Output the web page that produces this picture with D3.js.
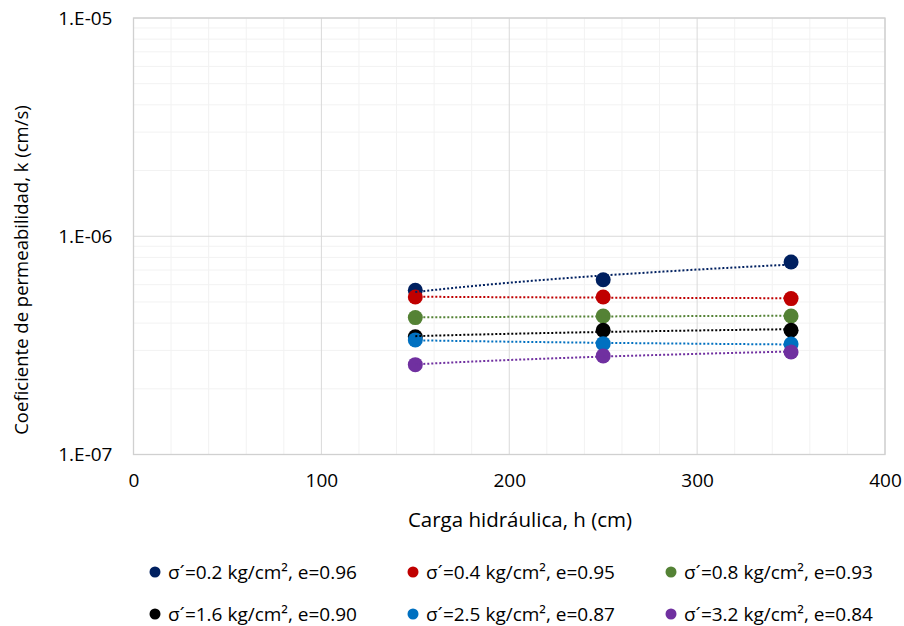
<!DOCTYPE html>
<html><head><meta charset="utf-8">
<script src="https://cdn.jsdelivr.net/npm/d3@7"></script>
<style>body{margin:0;background:#fff;} text{font-family:"Open Sans",sans-serif;fill:#000;}</style>
</head><body><svg id="c" width="904" height="626"></svg>
<script>
const heads = [150, 250, 350];
const seriesNames = ["σ´=0.2 kg/cm², e=0.96","σ´=0.4 kg/cm², e=0.95","σ´=0.8 kg/cm², e=0.93","σ´=1.6 kg/cm², e=0.90","σ´=2.5 kg/cm², e=0.87","σ´=3.2 kg/cm², e=0.84"];
const colors = ["#002060","#C00000","#548235","#000000","#0070C0","#7030A0"];
const k02 = [5.65e-7, 6.32e-7, 7.62e-7];
const k04 = [5.27e-7, 5.27e-7, 5.18e-7];
const k08 = [4.24e-7, 4.31e-7, 4.31e-7];
const k16 = [3.46e-7, 3.71e-7, 3.71e-7];
const k25 = [3.35e-7, 3.22e-7, 3.21e-7];
const k32 = [2.58e-7, 2.83e-7, 2.95e-7];
const allK = [k02,k04,k08,k16,k25,k32];
const xTicks = [0,100,200,300,400];
const yTicks = [1e-7,1e-6,1e-5];
const yTickLabels = ["1.E-07","1.E-06","1.E-05"];

const svg = d3.select("#c");
const L=133.5, R=885, T=18, B=454.5;
const x = d3.scaleLinear().domain([0,400]).range([L,R]);
const y = d3.scaleLog().domain([1e-7,1e-5]).range([B,T]);

const g = svg.append("g");
// minor grid
const minorX = d3.range(0,401,20).filter(v=>v%100!==0);
g.selectAll(".mx").data(minorX).enter().append("line")
 .attr("x1",d=>x(d)).attr("x2",d=>x(d)).attr("y1",T).attr("y2",B)
 .attr("stroke","#f2f2f2").attr("stroke-width",1);
const minorY=[];
[1e-7,1e-6].forEach(dec=>{for(let m=2;m<=9;m++)minorY.push(dec*m);});
g.selectAll(".my").data(minorY).enter().append("line")
 .attr("x1",L).attr("x2",R).attr("y1",d=>y(d)).attr("y2",d=>y(d))
 .attr("stroke","#f2f2f2").attr("stroke-width",1);
// major grid
g.selectAll(".Mx").data(xTicks).enter().append("line")
 .attr("x1",d=>x(d)).attr("x2",d=>x(d)).attr("y1",T).attr("y2",B)
 .attr("stroke","#d9d9d9").attr("stroke-width",1);
g.selectAll(".My").data(yTicks).enter().append("line")
 .attr("x1",L).attr("x2",R).attr("y1",d=>y(d)).attr("y2",d=>y(d))
 .attr("stroke","#d9d9d9").attr("stroke-width",1);
g.append("rect").attr("x",L).attr("y",T).attr("width",R-L).attr("height",B-T)
 .attr("fill","none").attr("stroke","#d0d0d0").attr("stroke-width",1.3);

// axes labels
const xa = d3.axisBottom(x).tickValues(xTicks).tickSize(0).tickPadding(19);
const xg = svg.append("g").attr("transform",`translate(0,${B})`).call(xa);
xg.select(".domain").remove();
xg.selectAll("text").style("font-size","19px").style("font-family","'Open Sans',sans-serif").attr("fill","#000");
const ya = d3.axisLeft(y).tickValues(yTicks).tickFormat((d,i)=>yTickLabels[i]).tickSize(0).tickPadding(21);
const yg = svg.append("g").attr("transform",`translate(${L},0)`).call(ya);
yg.select(".domain").remove();
yg.selectAll("text").style("font-size","19px").style("font-family","'Open Sans',sans-serif").attr("fill","#000");

svg.append("text").attr("x",520).attr("y",527).attr("text-anchor","middle")
 .style("font-size","20.5px").text("Carga hidráulica, h (cm)");
svg.append("text").attr("transform",`translate(28,${270}) rotate(-90)`).attr("text-anchor","middle")
 .style("font-size","18.5px").text("Coeficiente de permeabilidad, k (cm/s)");

// markers
allK.forEach((ks,i)=>{
  svg.append("g").selectAll("circle").data(ks).enter().append("circle")
   .attr("cx",(d,j)=>x(heads[j])).attr("cy",d=>y(d)).attr("r",7.5).attr("fill",colors[i]);
});
// power trendlines
allK.forEach((ks,i)=>{
  const lx=heads.map(Math.log), ly=ks.map(Math.log);
  const mx=d3.mean(lx), my=d3.mean(ly);
  const b=d3.sum(lx.map((v,j)=>(v-mx)*(ly[j]-my)))/d3.sum(lx.map(v=>(v-mx)*(v-mx)));
  const a=my-b*mx;
  const pts=d3.range(150,350.01,2).map(h=>[h,Math.exp(a+b*Math.log(h))]);
  svg.append("path").datum(pts)
   .attr("d",d3.line().x(d=>x(d[0])).y(d=>y(d[1])))
   .attr("fill","none").attr("stroke",colors[i]).attr("stroke-width",2).attr("stroke-dasharray","2,2");
});

// legend
const legX=[155,413,671], legY=[572,614];
seriesNames.forEach((n,i)=>{
  const cx=legX[i%3], cy=legY[Math.floor(i/3)];
  svg.append("circle").attr("cx",cx).attr("cy",cy).attr("r",5.5).attr("fill",colors[i]);
  svg.append("text").attr("x",cx+13).attr("y",cy+7).style("font-size","19px").text(n);
});
</script></body></html>
